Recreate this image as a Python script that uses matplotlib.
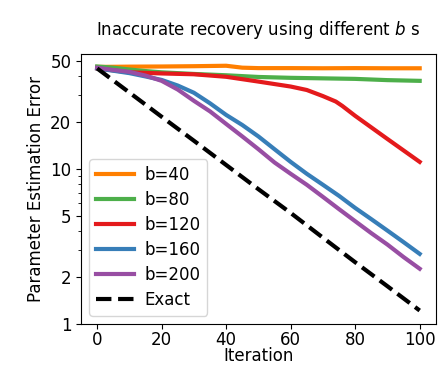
import matplotlib
matplotlib.use("Agg")
import matplotlib.pyplot as plt
from matplotlib.ticker import FixedLocator, FixedFormatter, LogLocator, NullFormatter

# ---- data ----
x_exact = [0, 10, 20, 30, 40, 50, 60, 70, 80, 90, 100]
y_exact = [44.5, 31.1, 21.7, 15.2, 10.6, 7.4, 5.2, 3.6, 2.5, 1.75, 1.22]

x_b40 = [0, 10, 20, 30, 40, 45, 50, 60, 70, 80, 90, 100]
y_b40 = [45.5, 45.7, 45.8, 46.0, 46.3, 45.0, 44.7, 44.7, 44.6, 44.7, 44.6, 44.6]

x_b80 = [0, 5, 10, 15, 20, 30, 40, 50, 60, 70, 80, 90, 100]
y_b80 = [45.8, 45.0, 43.8, 42.8, 42.0, 41.0, 40.2, 39.2, 38.7, 38.4, 38.1, 37.4, 37.0]

x_b120 = [0, 10, 20, 30, 40, 50, 60, 65, 70, 74, 76, 80, 90, 100]
y_b120 = [44.5, 42.0, 41.3, 40.8, 39.3, 36.6, 34.0, 32.3, 29.5, 27.2, 25.5, 22.0, 15.6, 11.1]

x_b160 = [0, 5, 10, 15, 20, 25, 30, 35, 40, 45, 50, 55, 60, 65, 70, 75, 80, 85, 90, 95, 100]
y_b160 = [44.5, 43.0, 41.5, 39.5, 37.5, 34.5, 31.0, 26.5, 22.3, 19.2, 16.2, 13.4, 11.1, 9.3,
          7.9, 6.7, 5.6, 4.74, 4.0, 3.37, 2.83]

x_b200 = [0, 5, 10, 15, 20, 25, 30, 35, 40, 45, 50, 55, 60, 65, 70, 75, 80, 85, 90, 95, 100]
y_b200 = [45.0, 43.5, 42.3, 40.0, 37.0, 32.5, 27.5, 23.5, 19.5, 16.2, 13.4, 11.0, 9.3, 7.9,
          6.6, 5.5, 4.6, 3.85, 3.25, 2.7, 2.27]

labels = ["b=40", "b=80", "b=120", "b=160", "b=200", "Exact"]
colors = ["#ff7f00", "#4daf4a", "#e41a1c", "#377eb8", "#984ea3", "black"]
xticks = [0, 20, 40, 60, 80, 100]
yticks = [1, 2, 5, 10, 20, 50]
ytick_labels = ["1", "2", "5", "10", "20", "50"]

plt.rcParams["font.size"] = 12
fig = plt.figure(figsize=(4.38, 3.66), dpi=100)
ax = fig.add_axes([0.185, 0.115, 0.810, 0.737])

series = [(x_b40, y_b40), (x_b80, y_b80), (x_b120, y_b120), (x_b160, y_b160), (x_b200, y_b200)]
for (xs, ys), lab, c in zip(series, labels[:5], colors[:5]):
    ax.plot(xs, ys, color=c, lw=3, label=lab)
ax.plot(x_exact, y_exact, color=colors[5], lw=3, ls="--", label=labels[5])

ax.set_yscale("log")
ax.set_ylim(1, 55)
ax.set_xlim(-5, 105)
ax.yaxis.set_major_locator(FixedLocator(yticks))
ax.yaxis.set_major_formatter(FixedFormatter(ytick_labels))
ax.yaxis.set_minor_locator(LogLocator(subs="auto"))
ax.yaxis.set_minor_formatter(NullFormatter())
ax.set_xticks(xticks)
ax.tick_params(axis="x", pad=1.5)

ax.set_xlabel("Iteration", labelpad=-1)
ax.set_ylabel("Parameter Estimation Error")
ax.set_title("Inaccurate recovery using different $b$ s", fontsize=12, pad=14)
ax.legend(loc="lower left", fontsize=12, handlelength=2.3, handletextpad=0.6,
          labelspacing=0.42)

fig.savefig("out.png", dpi=100)
